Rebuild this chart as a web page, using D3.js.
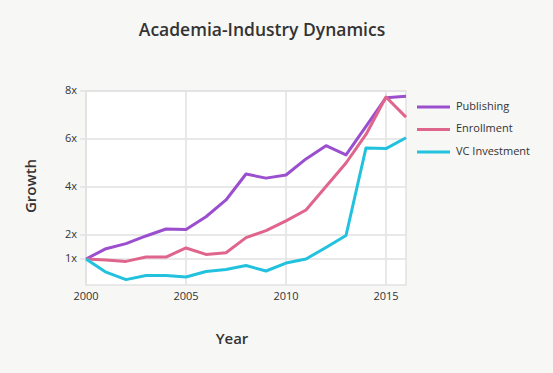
<!DOCTYPE html>
<html>
<head>
<meta charset="utf-8">
<script src="https://cdn.jsdelivr.net/npm/d3@7"></script>
<style>
  body { margin: 0; background: #f7f7f5; }
  svg { display: block; font-family: "Open Sans", Lato, sans-serif; }
</style>
</head>
<body>
<div class="draw"></div>
<script>
const width = 553
const height = 373
const margin = {top: 91, right: 147, bottom: 90, left: 86}

const years = d3.range(2000, 2017)
const publishing = [1.0, 1.43, 1.64, 1.96, 2.25, 2.23, 2.76, 3.46, 4.54, 4.37, 4.5, 5.17, 5.72, 5.34, 6.53, 7.72, 7.78]
const enrollment = [1.0, 0.96, 0.9, 1.08, 1.08, 1.46, 1.19, 1.26, 1.89, 2.18, 2.59, 3.04, 4.02, 5.0, 6.19, 7.75, 6.91]
const vcInvestment = [1.0, 0.45, 0.14, 0.31, 0.31, 0.25, 0.48, 0.56, 0.73, 0.5, 0.83, 1.0, 1.48, 1.98, 5.63, 5.6, 6.05]
const seriesNames = ["Publishing", "Enrollment", "VC Investment"]
const colors = ["#9b4fcf", "#e0658c", "#22c2de"]
const yTicks = [1, 2, 4, 6, 8]
const xTicks = [2000, 2005, 2010, 2015]

const series = [publishing, enrollment, vcInvestment].map((vals, i) => ({
  name: seriesNames[i],
  color: colors[i],
  values: vals.map((v, j) => [years[j], v])
}))

let svg = d3.select("div.draw")
  .append("svg")
  .attr("width", width)
  .attr("height", height)

let x = d3.scaleLinear()
  .domain([2000, 2016])
  .range([margin.left, width - margin.right])

let y = d3.scaleLinear()
  .domain([0, 8])
  .range([height - margin.bottom, margin.top])

// plot background
svg.append("rect")
  .attr("x", x(2000))
  .attr("y", margin.top)
  .attr("width", x(2016) - x(2000))
  .attr("height", y(0) - margin.top + 2)
  .style("fill", "#fff")
  .style("stroke", "#e2e2e2")
  .style("stroke-width", 1.5)

// gridlines
svg.selectAll("line.hgrid")
  .data(yTicks)
  .enter()
  .append("line")
  .attr("class", "hgrid")
  .attr("x1", x(2000) - 6)
  .attr("x2", x(2016))
  .attr("y1", d => y(d))
  .attr("y2", d => y(d))
  .style("stroke", "#e2e2e2")
  .style("stroke-width", 1.5)

svg.selectAll("line.vgrid")
  .data(xTicks)
  .enter()
  .append("line")
  .attr("class", "vgrid")
  .attr("x1", d => x(d))
  .attr("x2", d => x(d))
  .attr("y1", margin.top)
  .attr("y2", y(0) + 2)
  .style("stroke", "#e2e2e2")
  .style("stroke-width", 1.5)

// tick labels
svg.selectAll("text.ytick")
  .data(yTicks)
  .enter()
  .append("text")
  .attr("class", "ytick")
  .attr("x", x(2000) - 9)
  .attr("y", d => y(d))
  .attr("text-anchor", "end")
  .attr("dominant-baseline", "middle")
  .style("font-size", "11px")
  .style("fill", "#333")
  .text(d => d + "x")

svg.selectAll("text.xtick")
  .data(xTicks)
  .enter()
  .append("text")
  .attr("class", "xtick")
  .attr("x", d => x(d))
  .attr("y", y(0) + 17)
  .attr("text-anchor", "middle")
  .style("font-size", "11px")
  .style("fill", "#333")
  .text(d => d)

// lines
let line = d3.line()
  .x(d => x(d[0]))
  .y(d => y(d[1]))

svg.selectAll("path.series")
  .data(series)
  .enter()
  .append("path")
  .attr("class", "series")
  .attr("d", d => line(d.values))
  .style("fill", "none")
  .style("stroke", d => d.color)
  .style("stroke-width", 3)
  .style("stroke-linejoin", "round")

// legend
let legend = svg.selectAll("g.legend")
  .data(series)
  .enter()
  .append("g")
  .attr("class", "legend")
  .attr("transform", (d, i) => "translate(417," + (107 + i * 22.5) + ")")

legend.append("line")
  .attr("x1", 0)
  .attr("x2", 33)
  .style("stroke", d => d.color)
  .style("stroke-width", 3)

legend.append("text")
  .attr("x", 39)
  .attr("dominant-baseline", "middle")
  .style("font-size", "11px")
  .style("fill", "#333")
  .text(d => d.name)

// titles
svg.append("text")
  .attr("x", 262)
  .attr("y", 36)
  .attr("text-anchor", "middle")
  .style("font-size", "17.5px")
  .style("font-weight", 600)
  .style("fill", "#333")
  .text("Academia-Industry Dynamics")

svg.append("text")
  .attr("transform", "translate(36,186) rotate(-90)")
  .attr("text-anchor", "middle")
  .style("font-size", "15px")
  .style("font-weight", 600)
  .style("fill", "#333")
  .text("Growth")

svg.append("text")
  .attr("x", 232)
  .attr("y", 344)
  .attr("text-anchor", "middle")
  .style("font-size", "15px")
  .style("font-weight", 600)
  .style("fill", "#333")
  .text("Year")
</script>
</body>
</html>
